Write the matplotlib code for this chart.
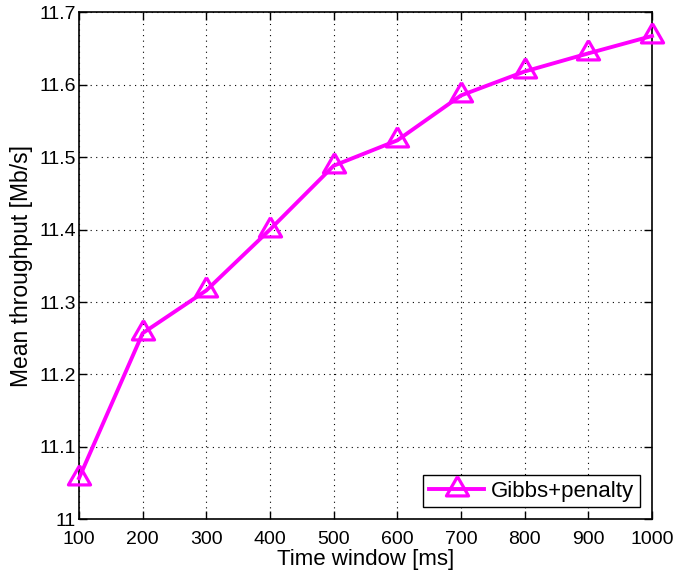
import numpy as np
import matplotlib
matplotlib.use('Agg')
import matplotlib.pyplot as plt

time_window = [100, 200, 300, 400, 500, 600, 700, 800, 900, 1000]
throughput = [11.057, 11.257, 11.316, 11.400, 11.488, 11.523, 11.585, 11.618, 11.643, 11.667]
x_ticks = [100, 200, 300, 400, 500, 600, 700, 800, 900, 1000]
y_ticks = [11.0, 11.1, 11.2, 11.3, 11.4, 11.5, 11.6, 11.7]
y_tick_labels = ['11', '11.1', '11.2', '11.3', '11.4', '11.5', '11.6', '11.7']

plt.rcParams['font.family'] = ['Liberation Sans', 'DejaVu Sans']

# matlab style triangle, anchored at its centroid
tri = [(0, 1.16), (-1, -0.58), (1, -0.58), (0, 1.16)]

fig = plt.figure(figsize=(6.73, 5.74), dpi=100)
ax = fig.add_axes([0.1174, 0.095, 0.8514, 0.884])

ax.plot(time_window, throughput, color='#ff00ff', linewidth=2.8,
        marker=tri, markersize=18.5, markerfacecolor='none',
        markeredgewidth=2.3, markeredgecolor='#ff00ff',
        label='Gibbs+penalty', clip_on=False, zorder=3)

ax.set_xlim(100, 1000)
ax.set_ylim(11.0, 11.7)
ax.set_xticks(x_ticks)
ax.set_yticks(y_ticks)
ax.set_yticklabels(y_tick_labels)
ax.tick_params(direction='in', top=True, right=True, labelsize=14,
               length=6, width=1.0)
ax.tick_params(axis='x', pad=8)
ax.tick_params(axis='y', pad=2)
ax.grid(True, color='black', linestyle=(0, (1, 4)), linewidth=0.8)
for s in ax.spines.values():
    s.set_linewidth(1.2)

ax.set_xlabel('Time window [ms]', fontsize=16, labelpad=1)
ax.set_ylabel('Mean throughput [Mb/s]', fontsize=16.5, labelpad=5)

leg = ax.legend(loc='lower right', fontsize=16, fancybox=False,
                framealpha=1, edgecolor='black', borderpad=0.25,
                handlelength=2.5, handletextpad=0.3,
                borderaxespad=0.55)
leg.get_frame().set_linewidth(1.0)

fig.savefig('out.png', dpi=100)
